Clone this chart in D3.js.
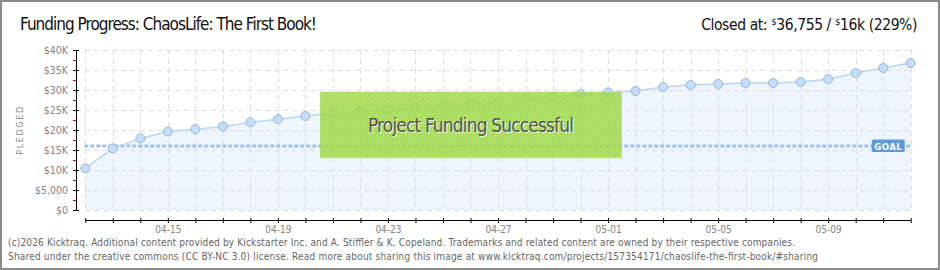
<!DOCTYPE html>
<html>
<head>
<meta charset="utf-8">
<script src="https://cdn.jsdelivr.net/npm/d3@7"></script>
<style>
  html, body { margin: 0; padding: 0; background: #fff; }
  svg { display: block; }
  text { font-family: "DejaVu Sans Condensed", "DejaVu Sans", sans-serif; }
</style>
</head>
<body>
<div id="chart"></div>
<script>
// values
const dates = ['2013-04-12','2013-04-13','2013-04-14','2013-04-15','2013-04-16','2013-04-17','2013-04-18',
  '2013-04-19','2013-04-20','2013-04-21','2013-04-22','2013-04-23','2013-04-24','2013-04-25','2013-04-26',
  '2013-04-27','2013-04-28','2013-04-29','2013-04-30','2013-05-01','2013-05-02','2013-05-03','2013-05-04',
  '2013-05-05','2013-05-06','2013-05-07','2013-05-08','2013-05-09','2013-05-10','2013-05-11','2013-05-12'];
const pledged = [10400, 15400, 17900, 19600, 20200, 20900, 21900, 22700, 23500, 24300, 24750, 25000, 25750,
  26250, 26750, 27000, 27800, 28250, 29000, 29400, 29750, 30750, 31250, 31500, 31750, 31750, 32000, 32700,
  34250, 35500, 36755];
const goal = 16000;
const xLabels = ['04-15','04-19','04-23','04-27','05-01','05-05','05-09'];
const yTicks = [0, 5000, 10000, 15000, 20000, 25000, 30000, 35000, 40000];
const yMinor = [2500, 7500, 12500, 17500, 22500, 27500, 32500, 37500];

const W = 940, H = 270;
const plot = { l: 85.3, r: 910.7, t: 50, b: 210 };
const parse = d3.utcParse('%Y-%m-%d');
const data = dates.map((d, i) => ({ date: parse(d), v: pledged[i] }));
const last = pledged[pledged.length - 1];

const svg = d3.select('#chart').append('svg').attr('width', W).attr('height', H);

const defs = svg.append('defs');
const hatch = defs.append('pattern').attr('id', 'hatch').attr('patternUnits', 'userSpaceOnUse')
  .attr('width', 4).attr('height', 4).attr('patternTransform', 'rotate(45)');
hatch.append('rect').attr('width', 4).attr('height', 4).attr('fill', '#a4dc4c');
hatch.append('line').attr('x1', 0).attr('y1', 0).attr('x2', 0).attr('y2', 4)
  .attr('stroke', '#9bd345').attr('stroke-width', 1.5);

const x = d3.scaleUtc().domain(d3.extent(data, d => d.date)).range([plot.l, plot.r]);
const y = d3.scaleLinear().domain([0, 40000]).range([plot.b, plot.t]);

// frame
svg.append('rect').attr('x', 1).attr('y', 1).attr('width', W - 2).attr('height', H - 2)
  .attr('fill', '#fff').attr('stroke', '#8a8a8a').attr('stroke-width', 2);

// area
svg.append('path').datum(data)
  .attr('d', d3.area().x(d => x(d.date)).y0(plot.b).y1(d => y(d.v)))
  .attr('fill', '#eef5fd');

// grid
const grid = svg.append('g').attr('stroke', '#dddddd').attr('stroke-dasharray', '5,4').attr('stroke-width', 1);
grid.selectAll('.gv').data(data).join('line')
  .attr('x1', d => Math.round(x(d.date)) + 0.5).attr('x2', d => Math.round(x(d.date)) + 0.5)
  .attr('y1', plot.t).attr('y2', plot.b);
grid.selectAll('.gh').data(yTicks).join('line')
  .attr('x1', plot.l).attr('x2', plot.r)
  .attr('y1', d => Math.round(y(d)) + 0.5).attr('y2', d => Math.round(y(d)) + 0.5);

// line
svg.append('path').datum(data)
  .attr('d', d3.line().x(d => x(d.date)).y(d => y(d.v)))
  .attr('fill', 'none').attr('stroke', '#b8d6f4').attr('stroke-width', 1.5);

// goal
svg.append('line').attr('x1', plot.l - 1).attr('x2', plot.r)
  .attr('y1', y(goal)).attr('y2', y(goal))
  .attr('stroke', '#9fc2ea').attr('stroke-width', 3).attr('stroke-dasharray', '4,2');

// points
svg.append('g').selectAll('circle').data(data).join('circle')
  .attr('cx', d => x(d.date)).attr('cy', d => y(d.v)).attr('r', 4.5)
  .attr('fill', '#c4ddf9').attr('stroke', '#9fb6d2').attr('stroke-width', 1);

// goal tag
const gx = x(data[data.length - 1].date) - 39, gy = y(goal);
svg.append('rect').attr('x', gx).attr('y', gy - 6.5).attr('width', 33).attr('height', 12.5)
  .attr('rx', 1.5).attr('fill', '#5b9bdc');
svg.append('text').attr('x', gx + 16.5).attr('y', gy + 3.5).attr('text-anchor', 'middle')
  .attr('fill', '#fff').attr('font-size', 9.5).attr('font-weight', 'bold').attr('letter-spacing', 0.5)
  .text('GOAL');

// success banner
const bx0 = x(parse('2013-04-20')) + 14.7, bx1 = x(parse('2013-05-01')) + 13.7;
const by0 = y(29550), by1 = y(12950);
svg.append('rect').attr('x', bx0).attr('y', by0).attr('width', bx1 - bx0).attr('height', by1 - by0)
  .attr('fill', 'url(#hatch)').attr('opacity', 0.86);
svg.append('line').attr('x1', bx0).attr('x2', bx1).attr('y1', by1 - 0.5).attr('y2', by1 - 0.5)
  .attr('stroke', '#c4ea86').attr('stroke-width', 1);
const bt = svg.append('g').attr('font-size', 19).attr('text-anchor', 'middle');
bt.append('text').attr('x', (bx0 + bx1) / 2 + 1).attr('y', 132.5).attr('fill', '#eef8e0')
  .attr('textLength', 206).text('Project Funding Successful');
bt.append('text').attr('x', (bx0 + bx1) / 2).attr('y', 131.5).attr('fill', '#555')
  .attr('textLength', 206).text('Project Funding Successful');

// y axis
const yAxis = svg.append('g').attr('transform', 'translate(76,0)')
  .call(d3.axisLeft(y).tickValues(yTicks).tickSize(3)
    .tickFormat(d => d >= 10000 ? '$' + d / 1000 + 'K' : d3.format('$,')(d)));
yAxis.select('.domain').attr('stroke', '#000').attr('d', `M0.5,${plot.t}V${plot.b + 1}`);
yAxis.selectAll('.tick line').attr('stroke', '#000').attr('x1', 3).attr('x2', -3);
yAxis.selectAll('.tick text').attr('x', -8).attr('fill', '#858585').attr('font-size', 10.5)
  .attr('font-family', '"DejaVu Sans", sans-serif');
svg.append('g').selectAll('line').data(yMinor).join('line')
  .attr('x1', 73).attr('x2', 76).attr('y1', d => Math.round(y(d)) + 0.5).attr('y2', d => Math.round(y(d)) + 0.5)
  .attr('stroke', '#e00000');

svg.append('text').attr('transform', 'translate(23,130) rotate(-90)').attr('text-anchor', 'middle')
  .attr('fill', '#8a8a8a').attr('font-size', 9).attr('letter-spacing', 1.6).text('PLEDGED');

// x axis
const xAxis = svg.append('g').attr('transform', 'translate(0,220)')
  .call(d3.axisBottom(x).tickValues(data.map(d => d.date)).tickSize(3)
    .tickFormat(d => { const s = d3.utcFormat('%m-%d')(d); return xLabels.includes(s) ? s : ''; }));
xAxis.select('.domain').attr('stroke', '#000').attr('d', `M${plot.l},0.5H${plot.r}`);
xAxis.selectAll('.tick line').attr('stroke', '#000').attr('y1', -2).attr('y2', 3);
xAxis.selectAll('.tick text').attr('y', 6).attr('fill', '#858585').attr('font-size', 10)
  .attr('font-family', '"DejaVu Sans", sans-serif');

// header
svg.append('text').attr('x', 20).attr('y', 30).attr('font-size', 17).attr('fill', '#111')
  .attr('textLength', 297).text('Funding Progress: ChaosLife: The First Book!');
const closed = svg.append('text').attr('x', 917).attr('y', 30).attr('text-anchor', 'end')
  .attr('font-size', 15.5).attr('letter-spacing', -0.4).attr('fill', '#111');
closed.append('tspan').text('Closed at:  ');
closed.append('tspan').attr('font-size', 9.5).attr('dy', -5).text('$');
closed.append('tspan').attr('dy', 5).text(d3.format(',')(last) + ' /  ');
closed.append('tspan').attr('font-size', 9.5).attr('dy', -5).text('$');
closed.append('tspan').attr('dy', 5).text(goal / 1000 + 'k (' + Math.floor(last / goal * 100) + '%)');

// footer
const foot = svg.append('g').attr('font-size', 10).attr('fill', '#666');
foot.append('text').attr('x', 8).attr('y', 246).attr('textLength', 787)
  .text('(c)2026 Kicktraq. Additional content provided by Kickstarter Inc. and A. Stiffler & K. Copeland. Trademarks and related content are owned by their respective companies.');
foot.append('text').attr('x', 8).attr('y', 260).attr('textLength', 810)
  .text('Shared under the creative commons (CC BY-NC 3.0) license. Read more about sharing this image at www.kicktraq.com/projects/157354171/chaoslife-the-first-book/#sharing');
</script>
</body>
</html>
